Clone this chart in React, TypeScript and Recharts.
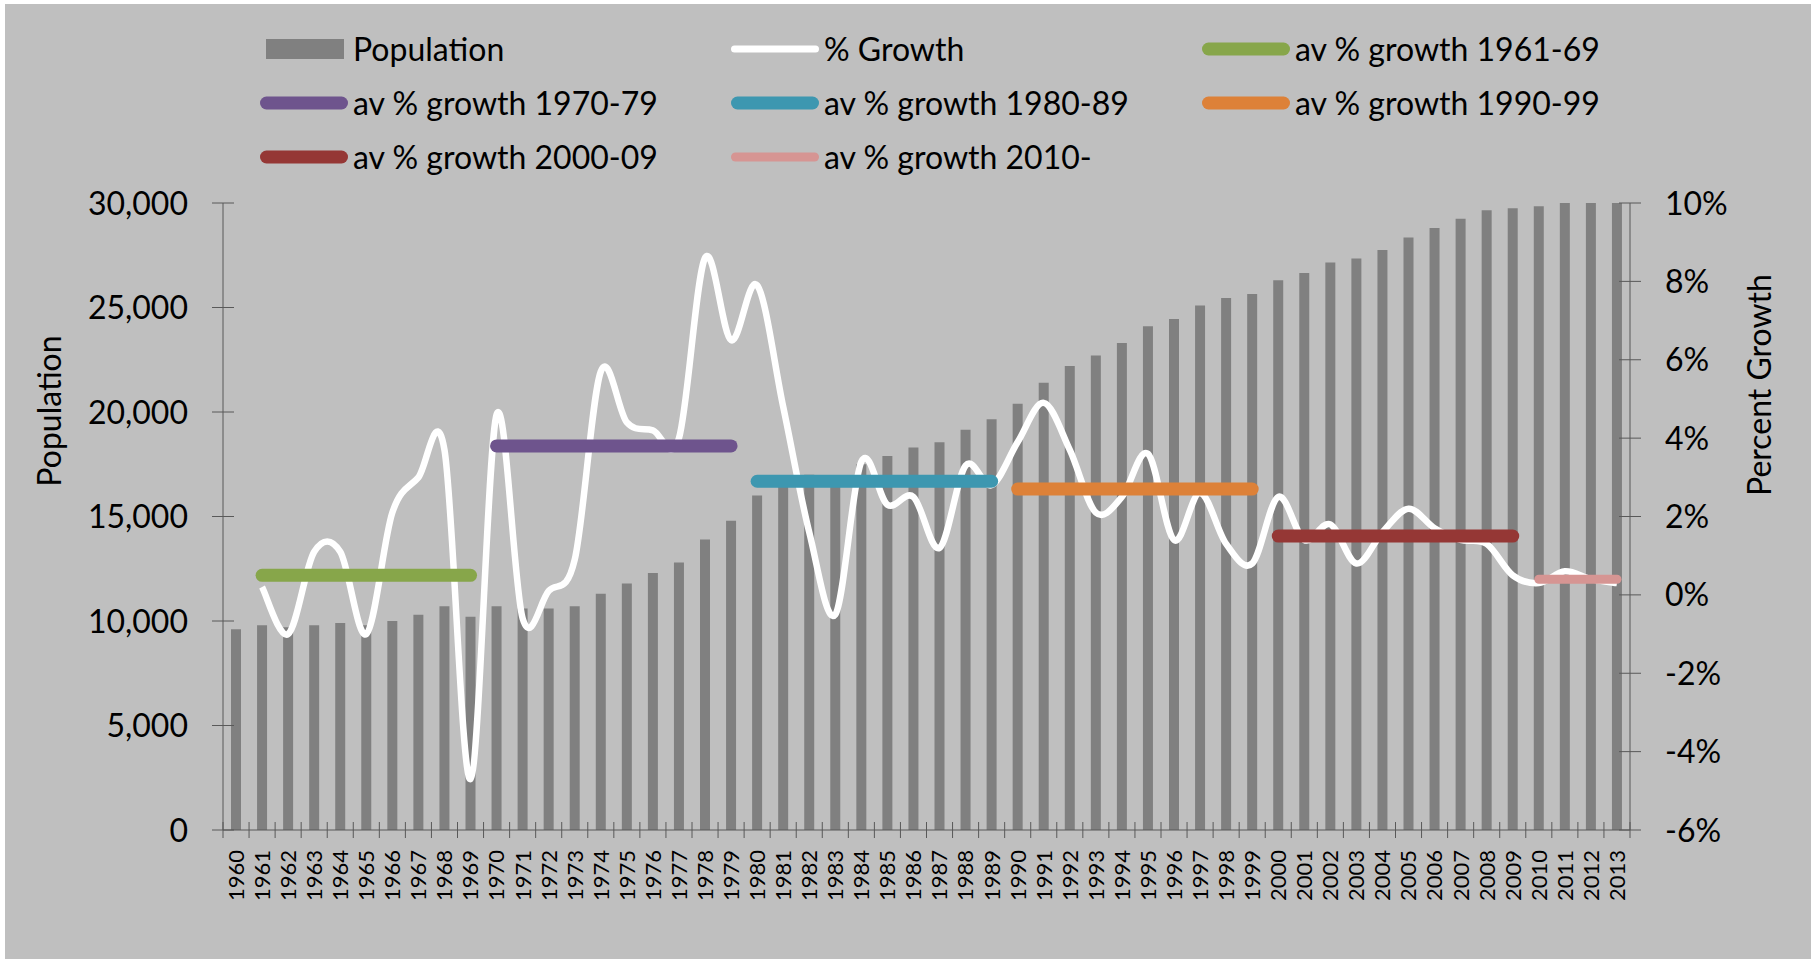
import React from 'react';
import {
  ComposedChart,
  Bar,
  Line,
  XAxis,
  YAxis,
  Legend,
} from 'recharts';

const years = [
  1960, 1961, 1962, 1963, 1964, 1965, 1966, 1967, 1968, 1969,
  1970, 1971, 1972, 1973, 1974, 1975, 1976, 1977, 1978, 1979,
  1980, 1981, 1982, 1983, 1984, 1985, 1986, 1987, 1988, 1989,
  1990, 1991, 1992, 1993, 1994, 1995, 1996, 1997, 1998, 1999,
  2000, 2001, 2002, 2003, 2004, 2005, 2006, 2007, 2008, 2009,
  2010, 2011, 2012, 2013,
];

const population = [
  9600, 9800, 9700, 9800, 9900, 9800, 10000, 10300, 10700, 10200,
  10700, 10600, 10600, 10700, 11300, 11800, 12300, 12800, 13900, 14800,
  16000, 16750, 17000, 16900, 17500, 17900, 18300, 18550, 19150, 19650,
  20400, 21400, 22200, 22700, 23300, 24100, 24450, 25100, 25450, 25650,
  26300, 26650, 27150, 27350, 27750, 28350, 28800, 29250, 29650, 29750,
  29850, 30000, 30000, 30000,
];

// % growth on previous year (no value for the first year)
const growth = [
  null, 0.2, -1.0, 1.1, 1.1, -1.0, 2.1, 3.0, 3.7, -4.7,
  4.6, -0.6, 0.1, 0.9, 5.7, 4.4, 4.2, 4.0, 8.6, 6.5,
  7.9, 4.8, 1.6, -0.5, 3.4, 2.3, 2.5, 1.2, 3.3, 2.8,
  3.9, 4.9, 3.7, 2.1, 2.5, 3.6, 1.4, 2.6, 1.3, 0.8,
  2.5, 1.4, 1.8, 0.8, 1.6, 2.2, 1.7, 1.4, 1.3, 0.5,
  0.3, 0.6, 0.4, 0.3,
];

// decade averages
const periodNames = ['1961-69', '1970-79', '1980-89', '1990-99', '2000-09', '2010-'];
const periodFrom = [1961, 1970, 1980, 1990, 2000, 2010];
const periodTo = [1969, 1979, 1989, 1999, 2009, 2013];
const periodAvg = [0.5, 3.8, 2.9, 2.7, 1.5, 0.4];
const periodColors = ['#87A64A', '#6E548D', '#3D97B0', '#DD8138', '#953735', '#D69593'];

const popTicks = [0, 5000, 10000, 15000, 20000, 25000, 30000];
const pctTicks = [-6, -4, -2, 0, 2, 4, 6, 8, 10];

const W = 1806;
const H = 955;
const LEFT_W = 218;
const RIGHT_W = 181;
const BAND = (W - LEFT_W - RIGHT_W) / years.length;
const AXIS = '#595959';
const FONT = 'Lato, "Open Sans", sans-serif';

const data = years.map((year, i) => {
  const row: Record<string, number | null> = {
    year,
    population: population[i],
    growth: growth[i],
  };
  periodNames.forEach((_, p) => {
    row[`avg${p}`] = year >= periodFrom[p] && year <= periodTo[p] ? periodAvg[p] : null;
  });
  return row;
});

// excel-like smoothed line (catmull-rom as bezier segments)
const excelSmooth = (context: any) => {
  let pts: number[][] = [];
  return {
    areaStart() {},
    areaEnd() {},
    lineStart() {
      pts = [];
    },
    point(x: number, y: number) {
      pts.push([x, y]);
    },
    lineEnd() {
      if (!pts.length) return;
      context.moveTo(pts[0][0], pts[0][1]);
      for (let i = 0; i < pts.length - 1; i++) {
        const p0 = pts[i - 1] || pts[i];
        const p1 = pts[i];
        const p2 = pts[i + 1];
        const p3 = pts[i + 2] || p2;
        context.bezierCurveTo(
          p1[0] + (p2[0] - p0[0]) / 6,
          p1[1] + (p2[1] - p0[1]) / 6,
          p2[0] - (p3[0] - p1[0]) / 6,
          p2[1] - (p3[1] - p1[1]) / 6,
          p2[0],
          p2[1]
        );
      }
    },
  };
};

const LeftTick = (props: any) => {
  const { x, y, payload } = props;
  const ax = x + 35;
  return (
    <g>
      <line x1={ax - 11} x2={ax + 11} y1={y} y2={y} stroke={AXIS} />
      <text x={x} y={y} dy="0.36em" textAnchor="end" fontSize={32} fontFamily={FONT} fill="#000">
        {Number(payload.value).toLocaleString('en-US')}
      </text>
    </g>
  );
};

const RightTick = (props: any) => {
  const { x, y, payload } = props;
  const ax = x - 35;
  return (
    <g>
      <line x1={ax - 11} x2={ax + 11} y1={y} y2={y} stroke={AXIS} />
      <text x={x} y={y} dy="0.36em" textAnchor="start" fontSize={32} fontFamily={FONT} fill="#000">
        {`${payload.value}%`}
      </text>
    </g>
  );
};

const YearTick = (props: any) => {
  const { x, y, payload, index } = props;
  const ay = y - 20;
  return (
    <g>
      <line x1={x - BAND / 2} x2={x - BAND / 2} y1={ay - 8} y2={ay + 8} stroke={AXIS} />
      {index === years.length - 1 && (
        <line x1={x + BAND / 2} x2={x + BAND / 2} y1={ay - 8} y2={ay + 8} stroke={AXIS} />
      )}
      <text
        x={x}
        y={y}
        dy="0.36em"
        textAnchor="end"
        transform={`rotate(-90, ${x}, ${y})`}
        fontSize={22}
        fontFamily={FONT}
        fill="#000"
      >
        {payload.value}
      </text>
    </g>
  );
};

const legendItems = [
  { name: 'Population', color: '#808080', bar: true, width: 0 },
  { name: '% Growth', color: '#FFFFFF', bar: false, width: 7 },
  ...periodNames.map((p, i) => ({
    name: `av % growth ${p}`,
    color: periodColors[i],
    bar: false,
    width: i === 5 ? 9 : 13,
  })),
];

const renderLegend = () => (
  <div style={{ position: 'relative', width: W, height: 180 }}>
    {legendItems.map((item, i) => {
      const col = i % 3;
      const row = Math.floor(i / 3);
      return (
        <div
          key={item.name}
          style={{
            position: 'absolute',
            left: 255 + col * 471,
            top: 45 + row * 54 - 20,
            height: 40,
            display: 'flex',
            alignItems: 'center',
            whiteSpace: 'nowrap',
          }}
        >
          <svg width={88} height={20} style={{ display: 'block' }}>
            {item.bar ? (
              <rect x={6} y={0} width={78} height={20} fill={item.color} />
            ) : (
              <line
                x1={item.width / 2}
                x2={88 - item.width / 2}
                y1={10}
                y2={10}
                stroke={item.color}
                strokeWidth={item.width}
                strokeLinecap="round"
              />
            )}
          </svg>
          <span
            style={{
              marginLeft: 5,
              fontFamily: FONT,
              fontSize: 32,
              lineHeight: '40px',
              color: '#000',
            }}
          >
            {item.name}
          </span>
        </div>
      );
    })}
  </div>
);

const App = () => {
  return (
    <div
      style={{
        position: 'absolute',
        left: 5,
        top: 4,
        width: W,
        height: H,
        background: '#BFBFBF',
      }}
    >
      <ComposedChart
        width={W}
        height={H}
        data={data}
        margin={{ top: 199, right: 0, bottom: 9, left: 0 }}
      >
        <XAxis
          dataKey="year"
          interval={0}
          height={120}
          tickSize={8}
          tickMargin={12}
          tickLine={false}
          axisLine={{ stroke: AXIS }}
          tick={<YearTick />}
        />
        <YAxis
          yAxisId="pop"
          orientation="left"
          width={LEFT_W}
          domain={[0, 30000]}
          ticks={popTicks}
          tickSize={11}
          tickMargin={24}
          tickLine={false}
          axisLine={{ stroke: AXIS }}
          tick={<LeftTick />}
          label={{
            content: () => (
              <text
                x={43}
                y={407}
                transform="rotate(-90, 43, 407)"
                textAnchor="middle"
                dominantBaseline="central"
                fontSize={32}
                fontFamily={FONT}
                fill="#000"
              >
                Population
              </text>
            ),
          }}
        />
        <YAxis
          yAxisId="pct"
          orientation="right"
          width={RIGHT_W}
          domain={[-6, 10]}
          ticks={pctTicks}
          tickSize={11}
          tickMargin={24}
          tickLine={false}
          axisLine={{ stroke: AXIS }}
          tick={<RightTick />}
          label={{
            content: () => (
              <text
                x={1753}
                y={381}
                transform="rotate(-90, 1753, 381)"
                textAnchor="middle"
                dominantBaseline="central"
                fontSize={32}
                fontFamily={FONT}
                fill="#000"
              >
                Percent Growth
              </text>
            ),
          }}
        />
        <Legend
          layout="horizontal"
          verticalAlign="middle"
          align="center"
          wrapperStyle={{ top: 0, left: 0, width: W, height: 180 }}
          content={renderLegend}
        />
        <Bar
          yAxisId="pop"
          dataKey="population"
          name="Population"
          fill="#808080"
          barSize={10}
          isAnimationActive={false}
        />
        <Line
          yAxisId="pct"
          dataKey="growth"
          name="% Growth"
          type={excelSmooth as any}
          stroke="#FFFFFF"
          strokeWidth={6.5}
          dot={false}
          activeDot={false}
          isAnimationActive={false}
        />
        {periodNames.map((p, i) => (
          <Line
            key={p}
            yAxisId="pct"
            dataKey={`avg${i}`}
            name={`av % growth ${p}`}
            type="linear"
            stroke={periodColors[i]}
            strokeWidth={i === 5 ? 9 : 13}
            strokeLinecap="round"
            dot={false}
            activeDot={false}
            isAnimationActive={false}
          />
        ))}
      </ComposedChart>
    </div>
  );
};

export default App;
